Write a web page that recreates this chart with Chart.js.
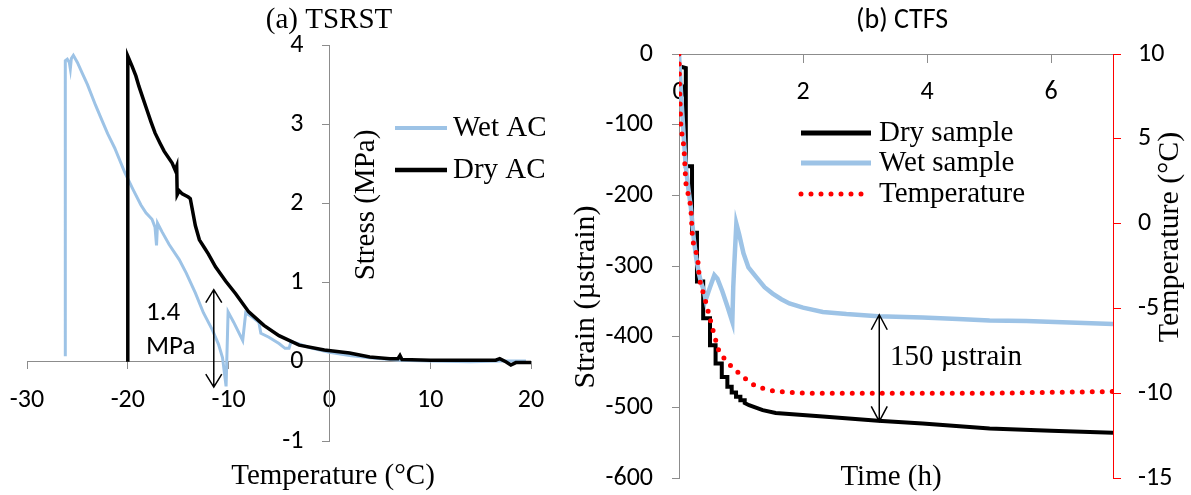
<!DOCTYPE html>
<html lang="en">
  <head>
    <meta charset="UTF-8" />
    <title>TSRST and CTFS</title>
    <script src="https://cdn.jsdelivr.net/npm/chart.js"></script>
    <style>
      body { margin: 0; background: #fff; }
      #wrap { position: relative; width: 1191px; height: 495px; }
      #tsrst { position: absolute; left: 0; top: 0; }
      #ctfs { position: absolute; left: 560px; top: 0; }
    </style>
  </head>
  <body>
    <div id="wrap">
      <canvas id="tsrst" width="560" height="495"></canvas>
      <canvas id="ctfs" width="631" height="495"></canvas>
    </div>
    <script>
      // (a) TSRST - stress vs temperature
      const wetTemp = [-26.2, -26.2, -26.0, -25.8, -25.7, -25.6, -25.4, -25.0, -24.5, -24.0, -23.2, -22.5, -22.0, -21.3, -20.3, -19.5, -18.7, -18.2, -17.6, -17.3, -17.15, -17.05, -16.6, -15.9, -14.9, -14.2, -13.3, -12.5, -11.6, -11.0, -10.6, -10.25, -10.05, -9.5, -8.6, -8.3, -7.6, -7.0, -6.8, -6.0, -5.0, -4.4, -4.0, -3.8, -3.4, -2.0, 0, 2, 4, 7, 10, 14, 17, 19.5]
      const wetStress = [0.07, 3.80, 3.82, 3.78, 3.70, 3.83, 3.87, 3.78, 3.64, 3.50, 3.24, 3.03, 2.88, 2.70, 2.39, 2.18, 1.98, 1.88, 1.80, 1.70, 1.47, 1.75, 1.64, 1.48, 1.29, 1.12, 0.87, 0.62, 0.40, 0.22, 0.05, -0.31, 0.63, 0.50, 0.27, 0.62, 0.56, 0.50, 0.36, 0.31, 0.23, 0.17, 0.17, 0.26, 0.24, 0.18, 0.12, 0.08, 0.05, 0.02, 0.01, 0.0, 0.01, 0.01]
      const dryTemp = [-20, -20, -19.6, -19.2, -18.9, -18.5, -18.1, -17.7, -17.3, -16.8, -16.4, -15.6, -15.3, -15.15, -15.1, -14.9, -14.6, -14.0, -13.8, -13.3, -12.9, -12.4, -12.0, -11.3, -10.3, -9.3, -8.0, -6.5, -5.0, -3.0, -0.5, 2, 4, 6, 6.8, 7.0, 7.2, 10, 13, 16.5, 16.9, 17.5, 18, 18.5, 19.5, 20]
      const dryStress = [0, 3.86, 3.74, 3.61, 3.48, 3.33, 3.18, 3.03, 2.89, 2.76, 2.66, 2.51, 2.42, 2.47, 2.11, 2.16, 2.12, 2.08, 2.06, 1.72, 1.54, 1.44, 1.36, 1.20, 1.02, 0.86, 0.63, 0.46, 0.33, 0.21, 0.15, 0.11, 0.06, 0.04, 0.04, 0.08, 0.03, 0.02, 0.02, 0.02, 0.04, 0.0, -0.04, -0.01, -0.01, -0.01]
      const tempTicksA = [-30, -20, -10, 0, 10, 20]
      const stressTicks = [-1, 0, 1, 2, 3, 4]

      // (b) CTFS - strain and temperature vs time
      const dryTime = [0.03, 0.11, 0.11, 0.21, 0.21, 0.29, 0.29, 0.39, 0.39, 0.50, 0.50, 0.59, 0.59, 0.69, 0.69, 0.78, 0.78, 0.85, 0.85, 0.92, 0.92, 0.99, 0.99, 1.06, 1.06, 1.13, 1.35, 1.56, 2.32, 3.21, 3.93, 5.01, 6.0, 7.0]
      const dryStrain = [-18, -20, -159, -159, -253, -253, -322, -322, -374, -374, -412, -412, -438, -438, -457, -457, -471, -471, -479, -479, -485, -485, -490, -490, -494, -497, -504, -508, -513, -519, -523, -530, -533, -536]
      const wetTime = [0, 0.03, 0.08, 0.11, 0.15, 0.19, 0.24, 0.28, 0.32, 0.36, 0.40, 0.43, 0.50, 0.57, 0.62, 0.70, 0.78, 0.86, 0.875, 0.89, 0.925, 0.97, 1.04, 1.12, 1.24, 1.38, 1.51, 1.65, 1.78, 2.0, 2.32, 2.7, 3.21, 3.93, 4.5, 5.01, 5.6, 6.3, 7.0]
      const wetStrain = [0, -51, -122, -159, -190, -216, -263, -290, -310, -325, -334, -348, -330, -313, -318, -336, -357, -379, -330, -301, -240, -255, -282, -302, -315, -330, -339, -347, -353, -359, -365, -368, -371, -373, -375, -377, -378, -380, -382]
      const tempTime = [0, 0.01, 0.03, 0.08, 0.11, 0.19, 0.22, 0.30, 0.33, 0.43, 0.50, 0.57, 0.65, 0.81, 1.02, 1.24, 1.56, 2.05, 3.0, 4.0, 5.0, 6.0, 7.0]
      const tempValues = [10, 7.9, 5.7, 4.5, 2.4, 1.0, -1.0, -2.0, -3.3, -4.6, -5.6, -6.6, -7.6, -8.3, -9.0, -9.6, -9.9, -10.0, -10.0, -10.0, -10.0, -9.95, -9.9]
      const timeTicks = [0, 2, 4, 6]
      const strainTicks = [-600, -500, -400, -300, -200, -100, 0]
      const tempTicksB = [-15, -10, -5, 0, 5, 10]

      const axisGray = '#8c8c8c'
      const wetBlue = '#9dc3e6'
      const serif = '"Liberation Serif", "Times New Roman", serif'
      const sans = 'Carlito, Lato, sans-serif'

      Chart.defaults.font.family = sans
      Chart.defaults.font.size = 26
      Chart.defaults.color = '#000'

      function points(xs, ys) {
        return xs.map((x, i) => ({ x: x, y: ys[i] }))
      }

      // a linear axis that shows exactly the given ticks
      function axis(min, max, tickList, extra) {
        return Object.assign(
          {
            type: 'linear',
            min: min,
            max: max,
            afterBuildTicks: scale => {
              scale.ticks = tickList.map(v => ({ value: v }))
            },
            grid: { drawOnChartArea: false, color: axisGray, tickLength: 7 },
            border: { color: axisGray, width: 1 },
            ticks: { padding: 16, color: '#000' }
          },
          extra
        )
      }

      // keep the plot area where the layout padding puts it
      function noPadding(scale) {
        scale.paddingTop = 0
        scale.paddingBottom = 0
        scale.paddingLeft = 0
        scale.paddingRight = 0
      }

      function fixedWidth(w) {
        return scale => {
          scale.width = w
          noPadding(scale)
        }
      }

      function text(ctx, str, x, y, font, align, angle) {
        ctx.save()
        ctx.font = font
        ctx.fillStyle = '#000'
        ctx.textAlign = align || 'center'
        ctx.textBaseline = 'middle'
        ctx.translate(x, y)
        if (angle) ctx.rotate(angle)
        ctx.fillText(str, 0, 0)
        ctx.restore()
      }

      // double headed arrow with open heads
      function arrow(ctx, x, yTop, yBottom, head) {
        ctx.save()
        ctx.strokeStyle = '#000'
        ctx.lineWidth = 1.5
        ctx.beginPath()
        ctx.moveTo(x, yTop)
        ctx.lineTo(x, yBottom)
        ctx.moveTo(x - 8, yTop + head)
        ctx.lineTo(x, yTop)
        ctx.lineTo(x + 8, yTop + head)
        ctx.moveTo(x - 8, yBottom - head)
        ctx.lineTo(x, yBottom)
        ctx.lineTo(x + 8, yBottom - head)
        ctx.stroke()
        ctx.restore()
      }

      function legendLine(ctx, x1, x2, y, ds, width) {
        ctx.save()
        ctx.strokeStyle = ds.borderColor
        ctx.lineWidth = width
        ctx.lineCap = ds.borderCapStyle || 'butt'
        ctx.setLineDash(ds.borderDash || [])
        ctx.beginPath()
        ctx.moveTo(x1, y)
        ctx.lineTo(x2, y)
        ctx.stroke()
        ctx.restore()
      }

      // a y axis placed at x = 0 draws its labels on the line, move them left
      const shiftStressLabels = {
        id: 'shiftStressLabels',
        beforeDraw(chart) {
          const scale = chart.scales.y
          const items = scale.getLabelItems()
          if (items._shifted) return
          const gap = scale.options.grid.tickLength + scale.options.ticks.padding
          items.forEach(item => {
            item.options.translation[0] -= gap
          })
          items._shifted = true
        }
      }

      const tsrstNotes = {
        id: 'tsrstNotes',
        afterDraw(chart) {
          const ctx = chart.ctx
          const sx = chart.scales.x
          const sy = chart.scales.y
          const big = '29px ' + serif
          text(ctx, '(a) TSRST', 329, 20, big)
          text(ctx, 'Temperature (°C)', 333, 476, big)
          text(ctx, 'Stress (MPa)', 366, 205, big, 'center', -Math.PI / 2)
          const ds = chart.data.datasets
          legendLine(ctx, 395, 447, 128, ds[0], 4)
          legendLine(ctx, 395, 447, 170, ds[1], 4.5)
          text(ctx, ds[0].label, 453, 128, big, 'left')
          text(ctx, ds[1].label, 453, 170, big, 'left')
          text(ctx, '1.4', 146, 313, '27px ' + sans, 'left')
          text(ctx, 'MPa', 146, 347, '27px ' + sans, 'left')
          arrow(ctx, sx.getPixelForValue(-11.47), sy.getPixelForValue(0.91), sy.getPixelForValue(-0.32), 13)
        }
      }

      const ctfsNotes = {
        id: 'ctfsNotes',
        afterDraw(chart) {
          const ctx = chart.ctx
          const sx = chart.scales.x
          const sy = chart.scales.y
          const big = '29px ' + serif
          text(ctx, '(b) CTFS', 342, 21, '28px ' + sans)
          text(ctx, 'Time (h)', 331, 477, big)
          text(ctx, 'Strain (µstrain)', 26, 297, '30px ' + serif, 'center', -Math.PI / 2)
          text(ctx, 'Temperature (°C)', 610, 237, '30px ' + serif, 'center', -Math.PI / 2)
          const ds = chart.data.datasets
          const rows = [133, 163, 194]
          ds.forEach((d, i) => {
            legendLine(ctx, 241, 311, rows[i], d, 5)
            text(ctx, d.label, 319, rows[i], big, 'left')
          })
          text(ctx, '150 µstrain', 330, 357, big, 'left')
          arrow(ctx, sx.getPixelForValue(3.23), sy.getPixelForValue(-369), sy.getPixelForValue(-520), 15)
        }
      }

      new Chart(document.getElementById('tsrst'), {
        type: 'line',
        data: {
          datasets: [
            {
              label: 'Wet AC',
              data: points(wetTemp, wetStress),
              borderColor: wetBlue,
              borderWidth: 3,
              pointRadius: 0,
              tension: 0,
              order: 1
            },
            {
              label: 'Dry AC',
              data: points(dryTemp, dryStress),
              borderColor: '#000',
              borderWidth: 3.5,
              pointRadius: 0,
              tension: 0,
              order: 0
            }
          ]
        },
        options: {
          responsive: false,
          animation: false,
          layout: { padding: { left: 27, right: 29, top: 45, bottom: 54 } },
          plugins: { legend: { display: false }, tooltip: { enabled: false } },
          scales: {
            x: axis(-30, 20, tempTicksA, { position: { y: 0 }, afterFit: noPadding }),
            y: axis(-1, 4, stressTicks, {
              position: { x: 0 },
              ticks: { padding: 19, color: '#000' },
              afterFit: noPadding
            })
          }
        },
        plugins: [shiftStressLabels, tsrstNotes]
      })

      new Chart(document.getElementById('ctfs'), {
        type: 'line',
        data: {
          datasets: [
            {
              label: 'Dry sample',
              data: points(dryTime, dryStrain),
              borderColor: '#000',
              borderWidth: 4,
              pointRadius: 0,
              tension: 0,
              yAxisID: 'y',
              order: 2
            },
            {
              label: 'Wet sample',
              data: points(wetTime, wetStrain),
              borderColor: wetBlue,
              borderWidth: 4.5,
              pointRadius: 0,
              tension: 0,
              yAxisID: 'y',
              order: 1
            },
            {
              label: 'Temperature',
              data: points(tempTime, tempValues),
              borderColor: '#ff0000',
              borderWidth: 5,
              borderDash: [0, 10],
              borderCapStyle: 'round',
              pointRadius: 0,
              tension: 0,
              yAxisID: 'y2',
              order: 0
            }
          ]
        },
        options: {
          responsive: false,
          animation: false,
          layout: { padding: { left: 0, right: 0, top: 54, bottom: 17 } },
          plugins: { legend: { display: false }, tooltip: { enabled: false } },
          scales: {
            x: axis(0, 7, timeTicks, {
              position: { y: 0 },
              grid: { drawOnChartArea: false, color: axisGray, tickLength: 8 },
              ticks: { padding: 15, color: '#000' },
              afterFit: noPadding
            }),
            y: axis(-600, 0, strainTicks, {
              position: 'left',
              ticks: { padding: 19, color: '#000' },
              afterFit: fixedWidth(119)
            }),
            y2: axis(-15, 10, tempTicksB, {
              position: 'right',
              grid: { drawOnChartArea: false, color: '#ff0000', tickLength: 8 },
              border: { color: '#ff0000', width: 1 },
              ticks: { padding: 17, color: '#000' },
              afterFit: fixedWidth(78)
            })
          }
        },
        plugins: [ctfsNotes]
      })
    </script>
  </body>
</html>
